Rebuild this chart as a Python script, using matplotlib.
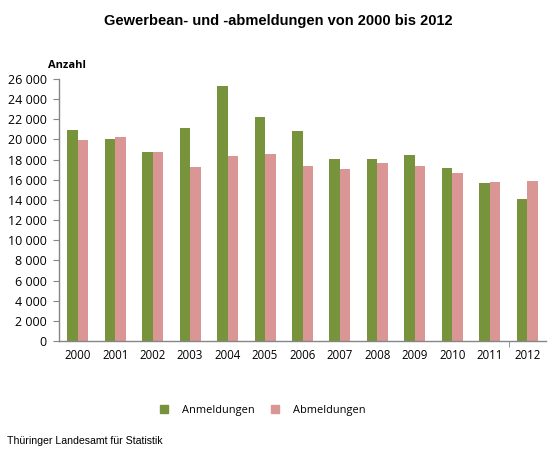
"""
Gewerbean- und -abmeldungen von 2000 bis 2012 as grouped bar chart.
"""

import numpy as np
import matplotlib
matplotlib.use("Agg")
import matplotlib.pyplot as plt
from matplotlib.lines import Line2D
from matplotlib.ticker import FuncFormatter

YEARS = ["2000", "2001", "2002", "2003", "2004", "2005", "2006",
         "2007", "2008", "2009", "2010", "2011", "2012"]
ANMELDUNGEN = [20900, 20000, 18800, 21100, 25350, 22250, 20800,
               18100, 18050, 18450, 17180, 15720, 14060]
ABMELDUNGEN = [19950, 20250, 18800, 17250, 18400, 18550, 17380,
               17050, 17700, 17380, 16680, 15750, 15890]

GREEN = "#77933C"
PINK = "#D99694"
AXIS_GREY = "#868686"
W, H = 556, 453

def thousands(v, pos):
    return f"{int(v):,}".replace(",", " ")

def main():
    fig = plt.figure(figsize=(W / 100, H / 100), dpi=100)
    ax = fig.add_axes([59 / W, 1 - 341 / H, 487 / W, 262 / H])

    x = np.arange(len(YEARS))
    bw = 0.28
    ax.bar(x - bw / 2, ANMELDUNGEN, width=bw, color=GREEN)
    ax.bar(x + bw / 2, ABMELDUNGEN, width=bw, color=PINK)

    ax.set_xlim(-0.5, len(YEARS) - 0.5)
    ax.set_ylim(0, 26000)
    ax.set_yticks(np.arange(0, 26001, 2000))
    ax.yaxis.set_major_formatter(FuncFormatter(thousands))
    ax.set_xticks(x)
    ax.set_xticklabels(YEARS)
    ax.set_xticks([len(YEARS) - 1.5], minor=True)

    for s in ("top", "right"):
        ax.spines[s].set_visible(False)
    for s in ("left", "bottom"):
        ax.spines[s].set_color(AXIS_GREY)
        ax.spines[s].set_linewidth(1.0)

    font = "Open Sans"
    ax.tick_params(axis="y", length=4, color=AXIS_GREY, labelsize=9, pad=5)
    ax.tick_params(axis="x", which="major", length=0, labelsize=8.3, pad=6)
    ax.tick_params(axis="x", which="minor", length=4, color=AXIS_GREY)
    for lab in ax.get_xticklabels() + ax.get_yticklabels():
        lab.set_fontfamily(font)

    fig.text(278 / W, 1 - 21 / H, "Gewerbean- und -abmeldungen von 2000 bis 2012",
             ha="center", va="center", fontsize=10.5, fontweight="bold",
             family="Liberation Sans")
    fig.text(48 / W, 1 - 65 / H, "Anzahl", ha="left", va="center",
             fontsize=8, fontweight="bold", family=font)
    fig.text(7 / W, 1 - 441 / H, "Thüringer Landesamt für Statistik",
             ha="left", va="center", fontsize=7.6, family="Liberation Sans")

    handles = [
        Line2D([], [], marker="s", linestyle="none", markersize=6,
               color=GREEN, label="Anmeldungen"),
        Line2D([], [], marker="s", linestyle="none", markersize=6,
               color=PINK, label="Abmeldungen"),
    ]
    fig.legend(handles=handles, loc="center", bbox_to_anchor=(262 / W, 1 - 410 / H),
               ncol=2, frameon=False, handlelength=1.0, handletextpad=1.2,
               columnspacing=1.3, prop={"family": font, "size": 7.9})

    fig.savefig("out.png", dpi=100)

if __name__ == "__main__":
    main()
